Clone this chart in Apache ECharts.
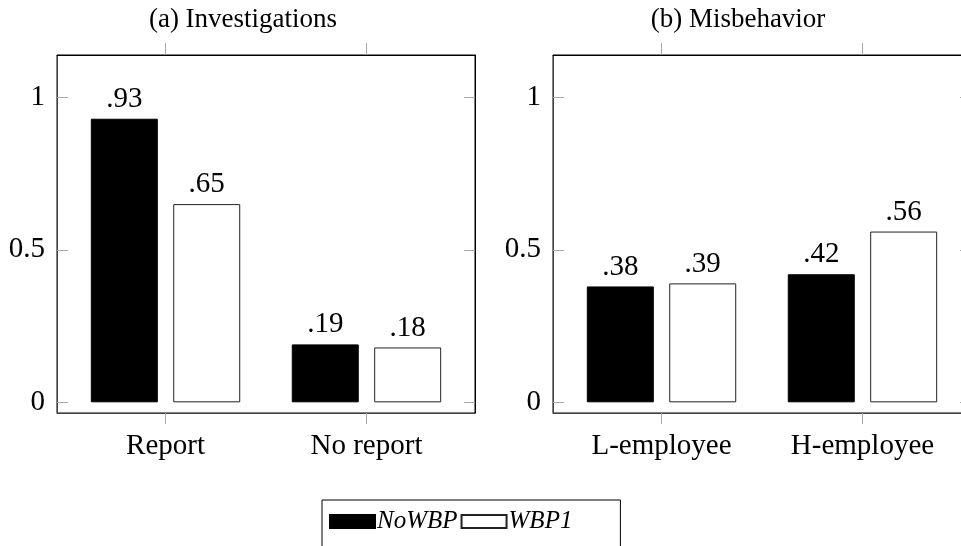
<!DOCTYPE html>
<html>
<head>
<meta charset="utf-8">
<script src="https://cdn.jsdelivr.net/npm/echarts@6/dist/echarts.min.js"></script>
<style>html,body{margin:0;padding:0;background:#fff}#c{width:961px;height:546px}</style>
</head>
<body>
<div id="c"></div>
<script>
const panelTitles = ['(a) Investigations', '(b) Misbehavior'];
const categoriesA = ['Report', 'No report'];
const categoriesB = ['L-employee', 'H-employee'];
const seriesNames = ['NoWBP', 'WBP1'];
const noWBP_A = [0.93, 0.19];
const wbp1_A = [0.65, 0.18];
const noWBP_B = [0.38, 0.42];
const wbp1_B = [0.39, 0.56];
const yTicks = [0, 0.5, 1];
const xTicks = [0, 1];

const FONT = 'Liberation Serif';
const chart = echarts.init(document.getElementById('c'));

const grids = [
  { left: 57, top: 55, width: 418, height: 358 },
  { left: 553, top: 55, width: 418, height: 358 }
];

function xAxesFor(gi, cats) {
  return [
    {
      type: 'value', gridIndex: gi, position: 'bottom', min: -0.54, max: 1.54,
      axisLine: { show: true, onZero: false, lineStyle: { color: '#444', width: 1 } },
      axisTick: { show: true, inside: false, length: 11, customValues: xTicks, lineStyle: { color: '#a8a8a8' } },
      axisLabel: { show: true, customValues: xTicks, margin: 19, fontFamily: FONT, fontSize: 29, color: '#000',
        formatter: v => cats[Math.round(v)] },
      splitLine: { show: false }
    },
    {
      type: 'value', gridIndex: gi, position: 'top', min: -0.54, max: 1.54,
      axisLine: { show: true, onZero: false, lineStyle: { color: '#000', width: 1 } },
      axisTick: { show: true, inside: false, length: 12, customValues: xTicks, lineStyle: { color: '#a8a8a8' } },
      axisLabel: { show: false },
      splitLine: { show: false }
    }
  ];
}
function yAxesFor(gi) {
  return [
    {
      type: 'value', gridIndex: gi, position: 'left', min: -0.035, max: 1.139,
      axisLine: { show: true, onZero: false, lineStyle: { color: '#444', width: 1 } },
      axisTick: { show: true, inside: true, length: 11, customValues: yTicks, lineStyle: { color: '#a8a8a8' } },
      axisLabel: { show: true, customValues: yTicks, margin: 12, fontFamily: FONT, fontSize: 29, color: '#000',
        formatter: v => String(v) },
      splitLine: { show: false }
    },
    {
      type: 'value', gridIndex: gi, position: 'right', min: -0.035, max: 1.139,
      axisLine: { show: true, onZero: false, lineStyle: { color: '#000', width: 1 } },
      axisTick: { show: true, inside: true, length: 11, customValues: yTicks, lineStyle: { color: '#a8a8a8' } },
      axisLabel: { show: false },
      splitLine: { show: false }
    }
  ];
}

const fmt = p => p.value[1].toFixed(2).replace(/^0/, '');
function barSeries(name, vals, axisBase, isBlack) {
  return {
    type: 'bar', name: name,
    xAxisIndex: axisBase, yAxisIndex: axisBase,
    data: vals.map((v, i) => [i, v]),
    barWidth: 67, barGap: '23%',
    itemStyle: isBlack
      ? { color: '#000', borderColor: '#000', borderWidth: 1 }
      : { color: '#fff', borderColor: '#222', borderWidth: 1 },
    label: { show: true, position: 'top', distance: 5, fontFamily: FONT, fontSize: 29, color: '#000', formatter: fmt },
    emphasis: { disabled: true },
    animation: false
  };
}

const option = {
  animation: false,
  backgroundColor: '#fff',
  title: [
    { text: panelTitles[0], left: 238, top: 1, textAlign: 'center',
      textStyle: { fontFamily: FONT, fontSize: 27, fontWeight: 'normal', color: '#000' } },
    { text: panelTitles[1], left: 733, top: 1, textAlign: 'center',
      textStyle: { fontFamily: FONT, fontSize: 27, fontWeight: 'normal', color: '#000' } }
  ],
  legend: {
    data: seriesNames.map(n => ({ name: n, icon: 'rect' })),
    left: 322, top: 500,
    orient: 'horizontal',
    itemWidth: 45, itemHeight: 13, itemGap: 3,
    padding: [9, 48, 18, 7],
    borderColor: '#000', borderWidth: 1,
    textStyle: { fontFamily: FONT, fontSize: 25, fontStyle: 'italic', color: '#000', padding: [0, 0, 0, -3] },
    selectedMode: false
  },
  grid: grids.map(g => Object.assign({ show: true, borderColor: '#000', borderWidth: 1, backgroundColor: 'transparent', outerBoundsMode: 'none', containLabel: false }, g)),
  xAxis: [].concat(xAxesFor(0, categoriesA), xAxesFor(1, categoriesB)),
  yAxis: [].concat(yAxesFor(0), yAxesFor(1)),
  series: [
    barSeries(seriesNames[0], noWBP_A, 0, true),
    barSeries(seriesNames[1], wbp1_A, 0, false),
    barSeries(seriesNames[0], noWBP_B, 2, true),
    barSeries(seriesNames[1], wbp1_B, 2, false)
  ]
};
chart.setOption(option);
</script>
</body>
</html>
